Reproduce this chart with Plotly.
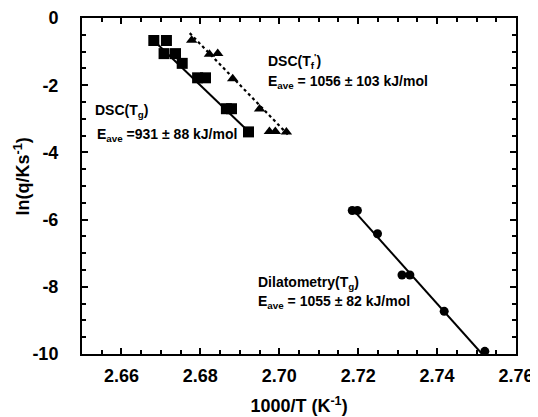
import plotly.graph_objects as go

# DSC(Tg) squares
tg_x = [2.6682, 2.6714, 2.6708, 2.6737, 2.6754, 2.6793, 2.6813, 2.6866, 2.6879, 2.6922]
tg_y = [-0.67, -0.67, -1.06, -1.06, -1.35, -1.78, -1.78, -2.70, -2.70, -3.39]
tg_fit_x = [2.6671, 2.6930]
tg_fit_y = [-0.55, -3.47]

# DSC(Tf') triangles
tf_x = [2.6778, 2.6823, 2.6844, 2.6882, 2.6950, 2.6975, 2.6990, 2.7018]
tf_y = [-0.66, -1.08, -1.06, -1.81, -2.71, -3.38, -3.38, -3.39]
tf_fit_x = [2.6773, 2.7022]
tf_fit_y = [-0.45, -3.47]

# Dilatometry(Tg) circles
dil_x = [2.7185, 2.7198, 2.7249, 2.7311, 2.7331, 2.7418, 2.7521]
dil_y = [-5.73, -5.73, -6.42, -7.65, -7.65, -8.73, -9.92]
dil_fit_x = [2.7185, 2.7514]
dil_fit_y = [-5.68, -10.0]

x_ticks = [2.66, 2.68, 2.70, 2.72, 2.74, 2.76]
x_tick_text = ["2.66", "2.68", "2.70", "2.72", "2.74", "2.76"]
y_ticks = [0, -2, -4, -6, -8, -10]
y_tick_text = ["0", "-2", "-4", "-6", "-8", "-10"]

fig = go.Figure()

line_style = dict(color="black", width=2)
fig.add_trace(go.Scatter(x=tg_fit_x, y=tg_fit_y, mode="lines", line=line_style, showlegend=False))
fig.add_trace(go.Scatter(x=tf_fit_x, y=tf_fit_y, mode="lines",
                         line=dict(color="black", width=2.2, dash="dot"), showlegend=False))
fig.add_trace(go.Scatter(x=dil_fit_x, y=dil_fit_y, mode="lines", line=line_style,
                         showlegend=False))

fig.add_trace(go.Scatter(x=tg_x, y=tg_y, mode="markers",
                         marker=dict(symbol="square", size=11, color="black"),
                         showlegend=False, cliponaxis=False))
fig.add_trace(go.Scatter(x=tf_x, y=tf_y, mode="markers",
                         marker=dict(symbol="triangle-up", size=10, color="black"),
                         showlegend=False, cliponaxis=False))
fig.add_trace(go.Scatter(x=dil_x, y=dil_y, mode="markers",
                         marker=dict(symbol="circle", size=9, color="black"),
                         showlegend=False, cliponaxis=False))

ann_font = dict(family="Liberation Sans, Arial", size=14, color="black", weight="bold")
annotations = [
    (2.6527, -2.76, "DSC(T<sub>g</sub>)"),
    (2.6532, -3.47, "E<sub>ave</sub> =931 ± 88 kJ/mol"),
    (2.6967, -1.29, "DSC(T<sub>f</sub><sup>'</sup>)"),
    (2.6967, -1.89, "E<sub>ave</sub> = 1056 ± 103 kJ/mol"),
    (2.6942, -7.88, "Dilatometry(T<sub>g</sub>)"),
    (2.6942, -8.44, "E<sub>ave</sub> = 1055 ± 82 kJ/mol"),
]
for ax_, ay_, txt in annotations:
    fig.add_annotation(x=ax_, y=ay_, text=txt, showarrow=False, xanchor="left",
                       yanchor="middle", font=ann_font, xref="x", yref="y")

title_font = dict(family="Liberation Sans, Arial", size=18, color="black", weight="bold")
# y-axis title as rotated text placed next to the axis
fig.add_annotation(x=-0.137, y=0.527, xref="paper", yref="paper", text="ln(q/Ks<sup>-1</sup>)",
                   textangle=-90, showarrow=False, xanchor="center", yanchor="middle",
                   font=title_font)

axis_common = dict(
    showline=True, linecolor="black", linewidth=2, mirror="allticks",
    ticks="inside", ticklen=6, tickwidth=1.5, tickcolor="black",
    showgrid=False, zeroline=False, automargin=False,
    tickfont=dict(family="Liberation Sans, Arial", size=18, color="black", weight="bold"),
)

fig.update_xaxes(
    range=[2.65, 2.76], tickvals=x_ticks, ticktext=x_tick_text,
    minor=dict(dtick=0.005, tick0=2.65, ticks="inside", ticklen=4, tickcolor="black", tickwidth=1.5),
    title=dict(text="1000/T (K<sup>-1</sup>)", font=title_font),
    ticklabelstandoff=4,
    **axis_common,
)
fig.update_yaxes(
    range=[-10, 0], tickvals=y_ticks, ticktext=y_tick_text,
    minor=dict(dtick=0.5, tick0=0, ticks="inside", ticklen=4, tickcolor="black", tickwidth=1.5),
    ticklabelstandoff=18,
    **axis_common,
)

# the page body adds an 8px offset, so the figure is sized/margined to compensate
fig.update_layout(
    width=530, height=409,
    margin=dict(l=74, r=22, t=10, b=63),
    plot_bgcolor="white", paper_bgcolor="white",
    font=dict(family="Liberation Sans, Arial", color="black"),
)

fig.write_html("out.html")
